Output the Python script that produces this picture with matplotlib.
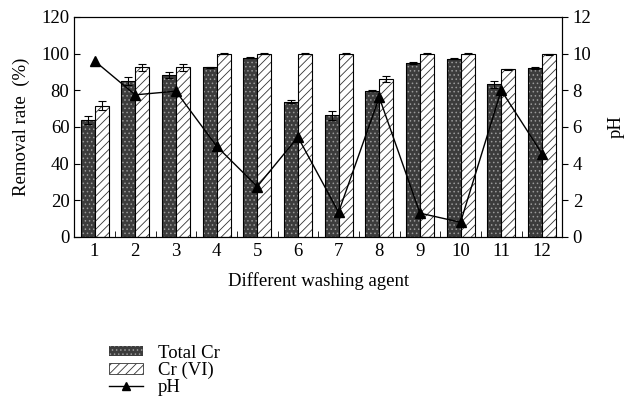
import numpy as np
import matplotlib.pyplot as plt
from matplotlib.lines import Line2D
from matplotlib.patches import Patch

plt.rcParams['font.family'] = ['Liberation Serif', 'DejaVu Serif']
plt.rcParams['hatch.linewidth'] = 0.6

agents = list(range(1, 13))
total_cr = [63.8, 85, 88.2, 92.5, 97.8, 73.8, 66.4, 79.8, 94.7, 97.1, 83.3, 92]
total_err = [2, 2, 1.5, 0.3, 0.3, 1, 2.5, 0.4, 0.5, 0.3, 2, 0.5]
cr6 = [71.5, 92.5, 92.5, 100, 100, 100, 100, 86.2, 100, 100, 91.5, 99.7]
cr6_err = [2.5, 2, 2, 0.2, 0.2, 0.2, 0.2, 1.5, 0.2, 0.2, 0.3, 0.3]
ph = [9.6, 7.75, 7.95, 4.95, 2.75, 5.45, 1.35, 7.62, 1.3, 0.8, 8.0, 4.55]

fs = 13.5
fig = plt.figure(figsize=(6.24, 4.03), dpi=100)
ax = fig.add_axes([0.119, 0.412, 0.782, 0.546])
x = np.array(agents)
w = 0.345

ax.bar(x - w/2, total_cr, w, color='#3c3c3c', hatch='....', edgecolor='#9a9a9a', linewidth=0)
ax.bar(x - w/2, total_cr, w, fill=False, edgecolor='black', linewidth=0.8)
ax.bar(x + w/2, cr6, w, color='white', hatch='////', edgecolor='#333333', linewidth=0)
ax.bar(x + w/2, cr6, w, fill=False, edgecolor='black', linewidth=0.8)
ax.errorbar(x - w/2, total_cr, yerr=total_err, fmt='none', ecolor='black', elinewidth=0.8, capsize=3, capthick=0.8)
ax.errorbar(x + w/2, cr6, yerr=cr6_err, fmt='none', ecolor='black', elinewidth=0.8, capsize=3, capthick=0.8)

ax.set_xlim(0.5, 12.5)
ax.set_ylim(0, 120)
ax.set_yticks(range(0, 121, 20))
ax.set_xticks(x)
ax.set_xticks(np.arange(1.5, 12.5, 1), minor=True)
ax.tick_params(axis='x', which='major', length=0, labelsize=fs, pad=4)
ax.tick_params(axis='x', which='minor', direction='in', length=4)
ax.tick_params(axis='y', direction='in', length=4, labelsize=fs)
ax.set_ylabel('Removal rate  (%)', fontsize=fs, labelpad=8)
ax.set_xlabel('Different washing agent', fontsize=fs, labelpad=9)

ax2 = ax.twinx()
ax2.plot(x, ph, color='black', marker='^', markersize=7, linewidth=1)
ax2.set_ylim(0, 12)
ax2.set_yticks(range(0, 13, 2))
ax2.tick_params(axis='y', direction='out', length=4, labelsize=fs)
ax2.set_ylabel('pH', fontsize=fs, labelpad=12)

handles = [Patch(facecolor='#3c3c3c', hatch='....', edgecolor='#9a9a9a', linewidth=0),
           Patch(facecolor='white', hatch='////', edgecolor='#333333', linewidth=0.6),
           Line2D([], [], color='black', marker='^', markersize=6, linewidth=1)]
fig.legend(handles, ['Total Cr', 'Cr (VI)', 'pH'], loc='upper left', bbox_to_anchor=(0.16, 0.168),
           frameon=False, fontsize=fs, handlelength=1.8, handleheight=0.5, handletextpad=0.8,
           labelspacing=0.0, borderpad=0)

fig.savefig('out.png', dpi=100)
